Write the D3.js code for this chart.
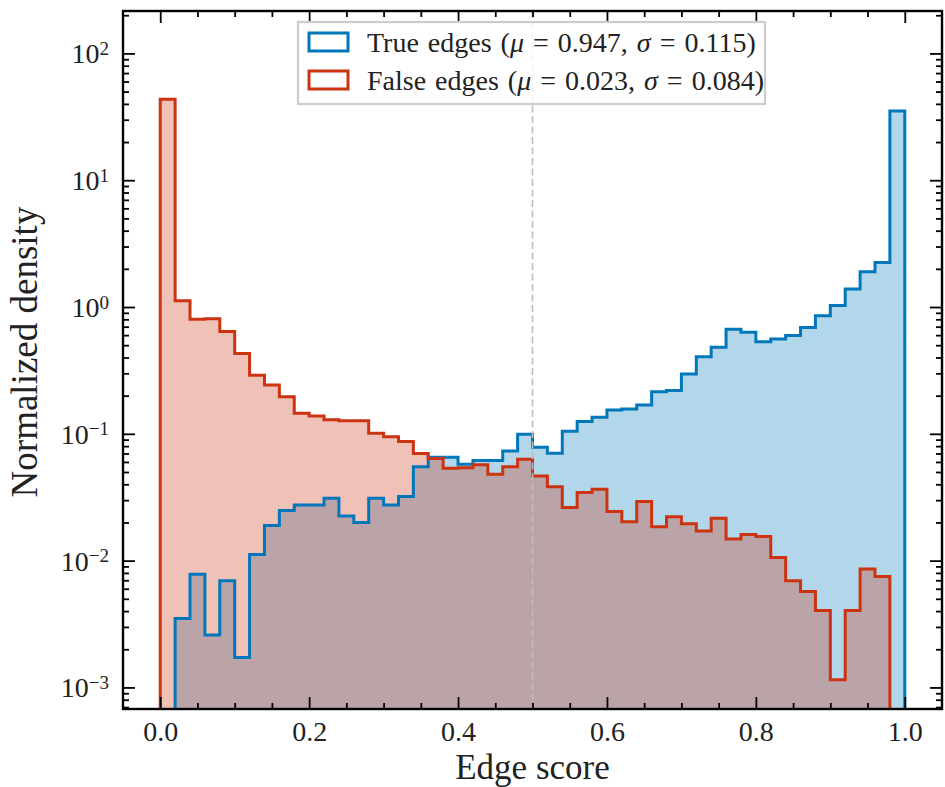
<!DOCTYPE html>
<html>
<head>
<meta charset="utf-8">
<script src="https://cdn.jsdelivr.net/npm/d3@7"></script>
<style>
  html, body { margin: 0; padding: 0; background: #fff; }
  svg { display: block; font-family: "Liberation Serif", "DejaVu Serif", serif; }
</style>
</head>
<body>
<svg id="chart"></svg>
<script>
// histogram bin edges (50 bins on [0, 1])
const binEdges = [0.00, 0.02, 0.04, 0.06, 0.08, 0.10, 0.12, 0.14, 0.16, 0.18,
  0.20, 0.22, 0.24, 0.26, 0.28, 0.30, 0.32, 0.34, 0.36, 0.38,
  0.40, 0.42, 0.44, 0.46, 0.48, 0.50, 0.52, 0.54, 0.56, 0.58,
  0.60, 0.62, 0.64, 0.66, 0.68, 0.70, 0.72, 0.74, 0.76, 0.78,
  0.80, 0.82, 0.84, 0.86, 0.88, 0.90, 0.92, 0.94, 0.96, 0.98, 1.00];

// normalized density per bin, null = empty bin
const trueDensity = [null, 0.00349, 0.00781, 0.00259, 0.00695, 0.00172, 0.0112, 0.0189, 0.0248, 0.0275,
  0.0275, 0.031, 0.0225, 0.020, 0.031, 0.0275, 0.032, 0.055, 0.0653, 0.0653,
  0.0575, 0.0615, 0.0615, 0.0733, 0.0993, 0.0783, 0.0703, 0.105, 0.125, 0.135,
  0.154, 0.157, 0.169, 0.215, 0.22, 0.297, 0.406, 0.482, 0.668, 0.633,
  0.533, 0.56, 0.595, 0.689, 0.855, 1.03, 1.39, 1.90, 2.24, 35.2];

const falseDensity = [43.5, 1.12, 0.80, 0.81, 0.64, 0.43, 0.29, 0.243, 0.196, 0.145,
  0.138, 0.129, 0.127, 0.127, 0.101, 0.095, 0.087, 0.070, 0.064, 0.0535,
  0.054, 0.057, 0.048, 0.055, 0.063, 0.0466, 0.0383, 0.0262, 0.0344, 0.0366,
  0.0244, 0.0203, 0.0292, 0.0185, 0.0222, 0.0195, 0.0171, 0.0216, 0.0148, 0.0161,
  0.0155, 0.0106, 0.00695, 0.0057, 0.00404, 0.00115, 0.00404, 0.0086, 0.00748, null];

const seriesNames = ["True edges", "False edges"];
const seriesMu = ["0.947", "0.023"];
const seriesSigma = ["0.115", "0.084"];

const xTicks = [0.0, 0.2, 0.4, 0.6, 0.8, 1.0];
const xTickLabels = ["0.0", "0.2", "0.4", "0.6", "0.8", "1.0"];
const yTicks = [1e-3, 1e-2, 1e-1, 1e0, 1e1, 1e2];
const yTickExps = ["\u22123", "\u22122", "\u22121", "0", "1", "2"];
const threshold = 0.5;

const W = 945, H = 787;
const margin = {left: 123, right: 3, top: 11, bottom: 78};
const blue = "#0077BB", red = "#CC3311";

const svg = d3.select("#chart").attr("width", W).attr("height", H);

const x = d3.scaleLinear().domain([-0.05, 1.05]).range([margin.left, W - margin.right]);
const y = d3.scaleLog().domain([6.76e-4, 216]).range([H - margin.bottom, margin.top]);
const x0 = x.range()[0], x1 = x.range()[1];
const yBot = y.range()[0], yTop = y.range()[1];

svg.append("defs").append("clipPath").attr("id", "plotclip")
  .append("rect")
  .attr("x", x0).attr("y", yTop)
  .attr("width", x1 - x0).attr("height", yBot - yTop);

const plot = svg.append("g").attr("clip-path", "url(#plotclip)");

// step outline points: up from baseline, across each bin, down to baseline
function stepPoints(values) {
  let pts = [];
  let first = values.findIndex(v => v != null);
  let last = values.length - 1 - [...values].reverse().findIndex(v => v != null);
  pts.push([binEdges[first], null]);
  for (let i = first; i <= last; i++) {
    pts.push([binEdges[i], values[i]]);
    pts.push([binEdges[i + 1], values[i]]);
  }
  pts.push([binEdges[last + 1], null]);
  return pts;
}

const line = d3.line()
  .x(d => x(d[0]))
  .y(d => d[1] == null ? yBot + 5 : y(d[1]));

const area = d3.area()
  .x(d => x(d[0]))
  .y0(yBot + 5)
  .y1(d => d[1] == null ? yBot + 5 : y(d[1]));

const series = [
  {vals: trueDensity, color: blue},
  {vals: falseDensity, color: red}
];

// filled histograms first, then outlines
series.forEach(s => {
  plot.append("path")
    .attr("d", area(stepPoints(s.vals)))
    .attr("fill", s.color)
    .attr("fill-opacity", 0.3)
    .attr("stroke", "none");
});
series.forEach(s => {
  plot.append("path")
    .attr("d", line(stepPoints(s.vals)))
    .attr("fill", "none")
    .attr("stroke", s.color)
    .attr("stroke-width", 3)
    .attr("stroke-linejoin", "miter");
});

// threshold line
plot.append("line")
  .attr("x1", x(threshold)).attr("x2", x(threshold))
  .attr("y1", yTop).attr("y2", yBot)
  .attr("stroke", "#bdbdbd")
  .attr("stroke-width", 1.6)
  .attr("stroke-dasharray", "7,3.5");

// ticks, all pointing inwards
const xMinor = x.ticks(22).filter(v => v >= 0 && v <= 1 && xTicks.every(t => Math.abs(t - v) > 1e-9));
const yMinor = y.ticks().filter(v => yTicks.every(t => Math.abs(Math.log10(t) - Math.log10(v)) > 1e-6));

function styleAxis(g) {
  g.attr("font-family", null).attr("font-size", null);
  g.select(".domain").remove();
  g.selectAll(".tick line").attr("stroke", "#000").attr("stroke-width", 1.8);
}

svg.append("g").attr("transform", `translate(0,${yBot})`)
  .call(d3.axisBottom(x).tickValues(xTicks).tickSize(-12).tickPadding(12)
    .tickFormat((d, i) => xTickLabels[i]))
  .call(styleAxis)
  .call(g => g.selectAll("text").attr("font-size", 28).attr("fill", "#222"));
svg.append("g").attr("transform", `translate(0,${yBot})`)
  .call(d3.axisBottom(x).tickValues(xMinor).tickSize(-6).tickFormat(""))
  .call(styleAxis);
svg.append("g").attr("transform", `translate(0,${yTop})`)
  .call(d3.axisTop(x).tickValues(xTicks).tickSize(-12).tickFormat(""))
  .call(styleAxis);
svg.append("g").attr("transform", `translate(0,${yTop})`)
  .call(d3.axisTop(x).tickValues(xMinor).tickSize(-6).tickFormat(""))
  .call(styleAxis);

const yAxisG = svg.append("g").attr("transform", `translate(${x0},0)`)
  .call(d3.axisLeft(y).tickValues(yTicks).tickSize(-12).tickPadding(14).tickFormat(""))
  .call(styleAxis);
yAxisG.selectAll(".tick").append("text")
  .attr("x", -14).attr("dy", "0.34em")
  .attr("text-anchor", "end")
  .attr("font-size", 28).attr("fill", "#222")
  .each(function(d, i) {
    const t = d3.select(this);
    t.append("tspan").text("10");
    t.append("tspan").attr("dy", "-0.45em").attr("font-size", 19).text(yTickExps[i]);
  });
svg.append("g").attr("transform", `translate(${x0},0)`)
  .call(d3.axisLeft(y).tickValues(yMinor).tickSize(-6).tickFormat(""))
  .call(styleAxis);
svg.append("g").attr("transform", `translate(${x1},0)`)
  .call(d3.axisRight(y).tickValues(yTicks).tickSize(-12).tickFormat(""))
  .call(styleAxis);
svg.append("g").attr("transform", `translate(${x1},0)`)
  .call(d3.axisRight(y).tickValues(yMinor).tickSize(-6).tickFormat(""))
  .call(styleAxis);

// frame
svg.append("rect")
  .attr("x", x0).attr("y", yTop)
  .attr("width", x1 - x0).attr("height", yBot - yTop)
  .attr("fill", "none").attr("stroke", "#000").attr("stroke-width", 2.4);

// axis labels
svg.append("text")
  .attr("x", (x0 + x1) / 2).attr("y", 779)
  .attr("text-anchor", "middle")
  .attr("font-size", 35).attr("fill", "#222")
  .text("Edge score");
svg.append("text")
  .attr("transform", `translate(37,${(yTop + yBot) / 2 - 8}) rotate(-90)`)
  .attr("text-anchor", "middle")
  .attr("font-size", 37).attr("fill", "#222")
  .text("Normalized density");

// legend
const legend = svg.append("g").attr("transform", "translate(298,22)");
legend.append("rect")
  .attr("width", 467).attr("height", 82)
  .attr("fill", "#fff").attr("fill-opacity", 0.8)
  .attr("stroke", "#cccccc").attr("stroke-width", 2.2);

series.forEach((s, i) => {
  const row = legend.append("g").attr("transform", `translate(0,${20 + i * 38})`);
  row.append("rect")
    .attr("x", 11).attr("y", -9).attr("width", 39).attr("height", 18)
    .attr("fill", "#fff").attr("stroke", s.color).attr("stroke-width", 3);
  const t = row.append("text")
    .attr("x", 69).attr("dy", "0.35em")
    .attr("font-size", 28).attr("word-spacing", 2).attr("fill", "#222");
  t.append("tspan").text(seriesNames[i] + " (");
  t.append("tspan").attr("font-style", "italic").text("\u03bc");
  t.append("tspan").text(" = " + seriesMu[i] + ", ");
  t.append("tspan").attr("font-style", "italic").text("\u03c3");
  t.append("tspan").text(" = " + seriesSigma[i] + ")");
});
</script>
</body>
</html>
